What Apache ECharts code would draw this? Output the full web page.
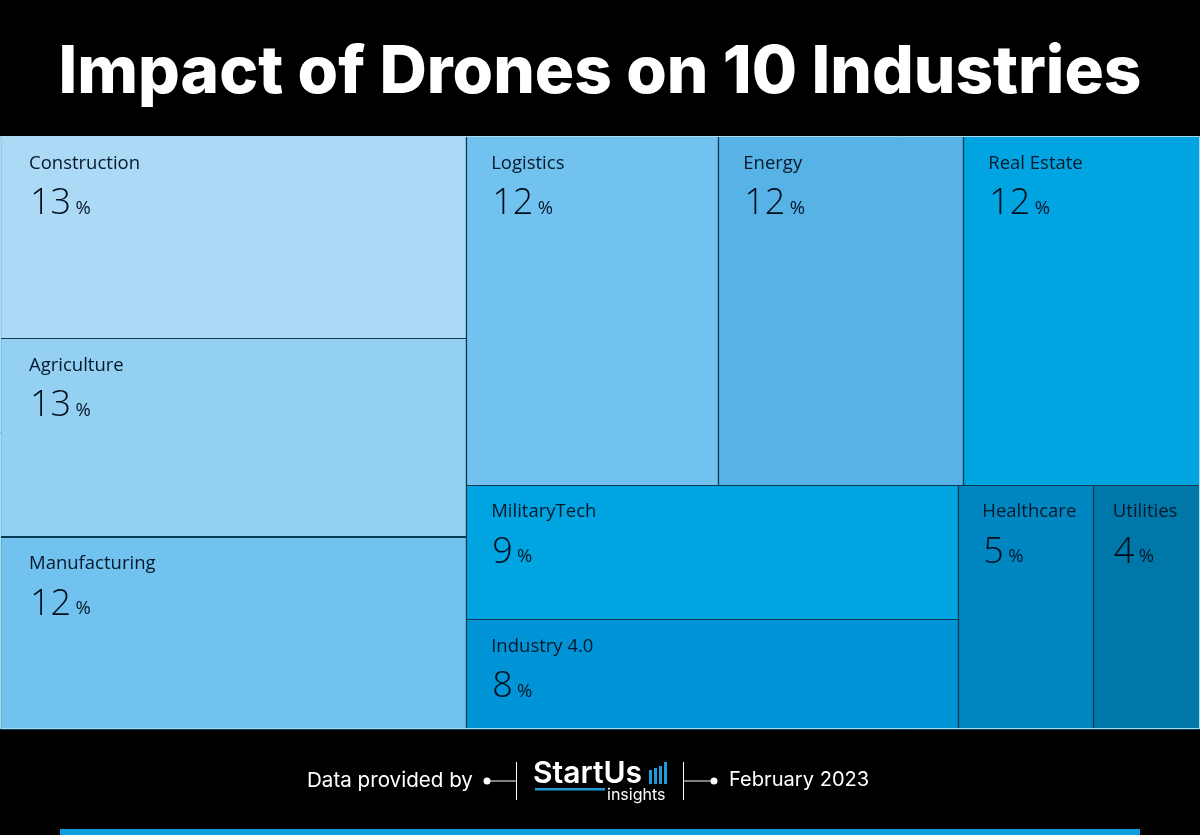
<!DOCTYPE html>
<html style="height: 100%">
<head>
<meta charset="UTF-8">
<script src="https://cdn.jsdelivr.net/npm/echarts@6/dist/echarts.min.js"></script>
</head>
<body style="height: 100%; margin: 0; background: #000">
<div id="container" style="width: 1200px; height: 835px"></div>
<script type="text/javascript">
var categories = ['Construction', 'Agriculture', 'Manufacturing', 'Logistics', 'Energy', 'Real Estate', 'MilitaryTech', 'Industry 4.0', 'Healthcare', 'Utilities'];
var percentLabels = [13, 13, 12, 12, 12, 12, 9, 8, 5, 4];
// tile areas, the printed labels are these rounded
var shares = [13.25, 13.0, 12.6, 12.35, 12.0, 11.6, 9.3, 7.6, 4.62, 3.68];
var tileColors = ['#abd9f6', '#93d0f2', '#71c2ee', '#71c2ee', '#57b3e6', '#00a4e0', '#00a4e0', '#0094d6', '#0086c0', '#0077a9'];
var labelInset = [29, 29, 29, 25, 25, 25, 25, 25, 24, 20];
var leftStack = [0, 1, 2];
var topRow = [3, 4, 5];
var middleStack = [6, 7];
var sideRow = [8, 9];

function sum(idx) {
	var s = 0;
	for (var i = 0; i < idx.length; i++) s += shares[idx[i]];
	return s;
}
var total = sum(leftStack) + sum(topRow) + sum(middleStack) + sum(sideRow);

// slice the total area into boxes, in share units on both axes
var tiles = [];
function sliceX(idx, x0, x1, y0, y1) {
	var w = sum(idx), x = x0;
	for (var i = 0; i < idx.length; i++) {
		var nx = x + (x1 - x0) * shares[idx[i]] / w;
		tiles[idx[i]] = [x, nx, y0, y1];
		x = nx;
	}
}
function sliceY(idx, x0, x1, y0, y1) {
	var h = sum(idx), y = y0;
	for (var i = 0; i < idx.length; i++) {
		var ny = y + (y1 - y0) * shares[idx[i]] / h;
		tiles[idx[i]] = [x0, x1, y, ny];
		y = ny;
	}
}
var leftEnd = sum(leftStack);
var rightTotal = total - leftEnd;
var topEnd = total * sum(topRow) / rightTotal;
var bottomTotal = sum(middleStack) + sum(sideRow);
var middleEnd = leftEnd + rightTotal * sum(middleStack) / bottomTotal;
sliceY(leftStack, 0, leftEnd, 0, total);
sliceX(topRow, leftEnd, total, 0, topEnd);
sliceY(middleStack, leftEnd, middleEnd, topEnd, total);
sliceX(sideRow, middleEnd, total, topEnd, total);

var tileData = [];
for (var i = 0; i < categories.length; i++) {
	tileData.push({ name: categories[i], value: tiles[i].concat(i) });
}

var textDark = '#06182a';
var logoBlue = '#1e9ad6';

function renderTile(params, api) {
	var i = api.value(4);
	var p0 = api.coord([api.value(0), api.value(2)]);
	var p1 = api.coord([api.value(1), api.value(3)]);
	return {
		type: 'group',
		children: [{
			type: 'rect',
			shape: { x: Math.round(p0[0]) + 0.5, y: Math.round(p0[1]) + 0.5, width: Math.round(p1[0] - p0[0]), height: Math.round(p1[1] - p0[1]) },
			style: { fill: tileColors[i], stroke: '#0b3a55', lineWidth: 1.2 }
		}, {
			type: 'text',
			x: p0[0] + labelInset[i],
			y: p0[1] + 18,
			style: { text: categories[i], font: '400 18.5px "Open Sans"', fill: textDark }
		}, {
			type: 'text',
			x: p0[0] + labelInset[i] + 1,
			y: p0[1] + 50,
			style: {
				text: '{v|' + percentLabels[i] + '} {p|%}',
				rich: {
					v: { font: '300 36px "Open Sans"', fill: '#000c18' },
					p: { font: '400 18.5px "Open Sans"', fill: textDark, verticalAlign: 'bottom', padding: [0, 0, 4, 1] }
				}
			}
		}]
	};
}

var myChart = echarts.init(document.getElementById('container'));
var option = {
	backgroundColor: '#000',
	animation: false,
	title: {
		text: 'Impact of Drones on 10 Industries',
		left: 'center',
		top: 35,
		textStyle: { color: '#fff', fontFamily: 'Inter', fontWeight: 800, fontSize: 65.6 }
	},
	grid: { left: 0, right: 0, top: 136, bottom: 106 },
	xAxis: { type: 'value', min: 0, max: total, show: false },
	yAxis: { type: 'value', min: 0, max: total, inverse: true, show: false },
	series: [{
		type: 'custom',
		renderItem: renderTile,
		clip: false,
		data: tileData
	}],
	graphic: [
		{ type: 'rect', z: 100, shape: { x: 0.5, y: 136.5, width: 1199, height: 592 }, style: { fill: null, stroke: '#a9dcee', lineWidth: 1 } },
		{ type: 'text', x: 307, y: 770, style: { text: 'Data provided by', font: '400 20.6px Inter', fill: '#fff' } },
		{ type: 'circle', shape: { cx: 487, cy: 781, r: 3.5 }, style: { fill: '#fff' } },
		{ type: 'line', shape: { x1: 487, y1: 781, x2: 516, y2: 781 }, style: { stroke: '#fff', lineWidth: 1 } },
		{ type: 'line', shape: { x1: 516.5, y1: 762, x2: 516.5, y2: 800 }, style: { stroke: '#fff', lineWidth: 1 } },
		{ type: 'text', x: 533, y: 759, style: { text: 'StartUs', font: '600 30px Inter', fill: '#fff' } },
		{ type: 'rect', shape: { x: 535, y: 788, width: 70, height: 2.5 }, style: { fill: logoBlue } },
		{ type: 'rect', shape: { x: 649, y: 770, width: 3, height: 14 }, style: { fill: logoBlue } },
		{ type: 'rect', shape: { x: 654, y: 768, width: 3, height: 16 }, style: { fill: logoBlue } },
		{ type: 'rect', shape: { x: 659, y: 766, width: 3, height: 18 }, style: { fill: logoBlue } },
		{ type: 'rect', shape: { x: 664, y: 762, width: 3, height: 22 }, style: { fill: logoBlue } },
		{ type: 'text', x: 607, y: 787, style: { text: 'insights', font: '400 16px Inter', fill: '#fff' } },
		{ type: 'line', shape: { x1: 683.5, y1: 762, x2: 683.5, y2: 800 }, style: { stroke: '#fff', lineWidth: 1 } },
		{ type: 'line', shape: { x1: 684, y1: 781, x2: 714, y2: 781 }, style: { stroke: '#fff', lineWidth: 1 } },
		{ type: 'circle', shape: { cx: 714, cy: 781, r: 3.5 }, style: { fill: '#fff' } },
		{ type: 'text', x: 729, y: 770, style: { text: 'February 2023', font: '400 20.1px Inter', fill: '#fff' } },
		{ type: 'rect', shape: { x: 60, y: 829, width: 1080, height: 6 }, style: { fill: '#0f9fdc' } }
	]
};
myChart.setOption(option);
</script>
</body>
</html>
